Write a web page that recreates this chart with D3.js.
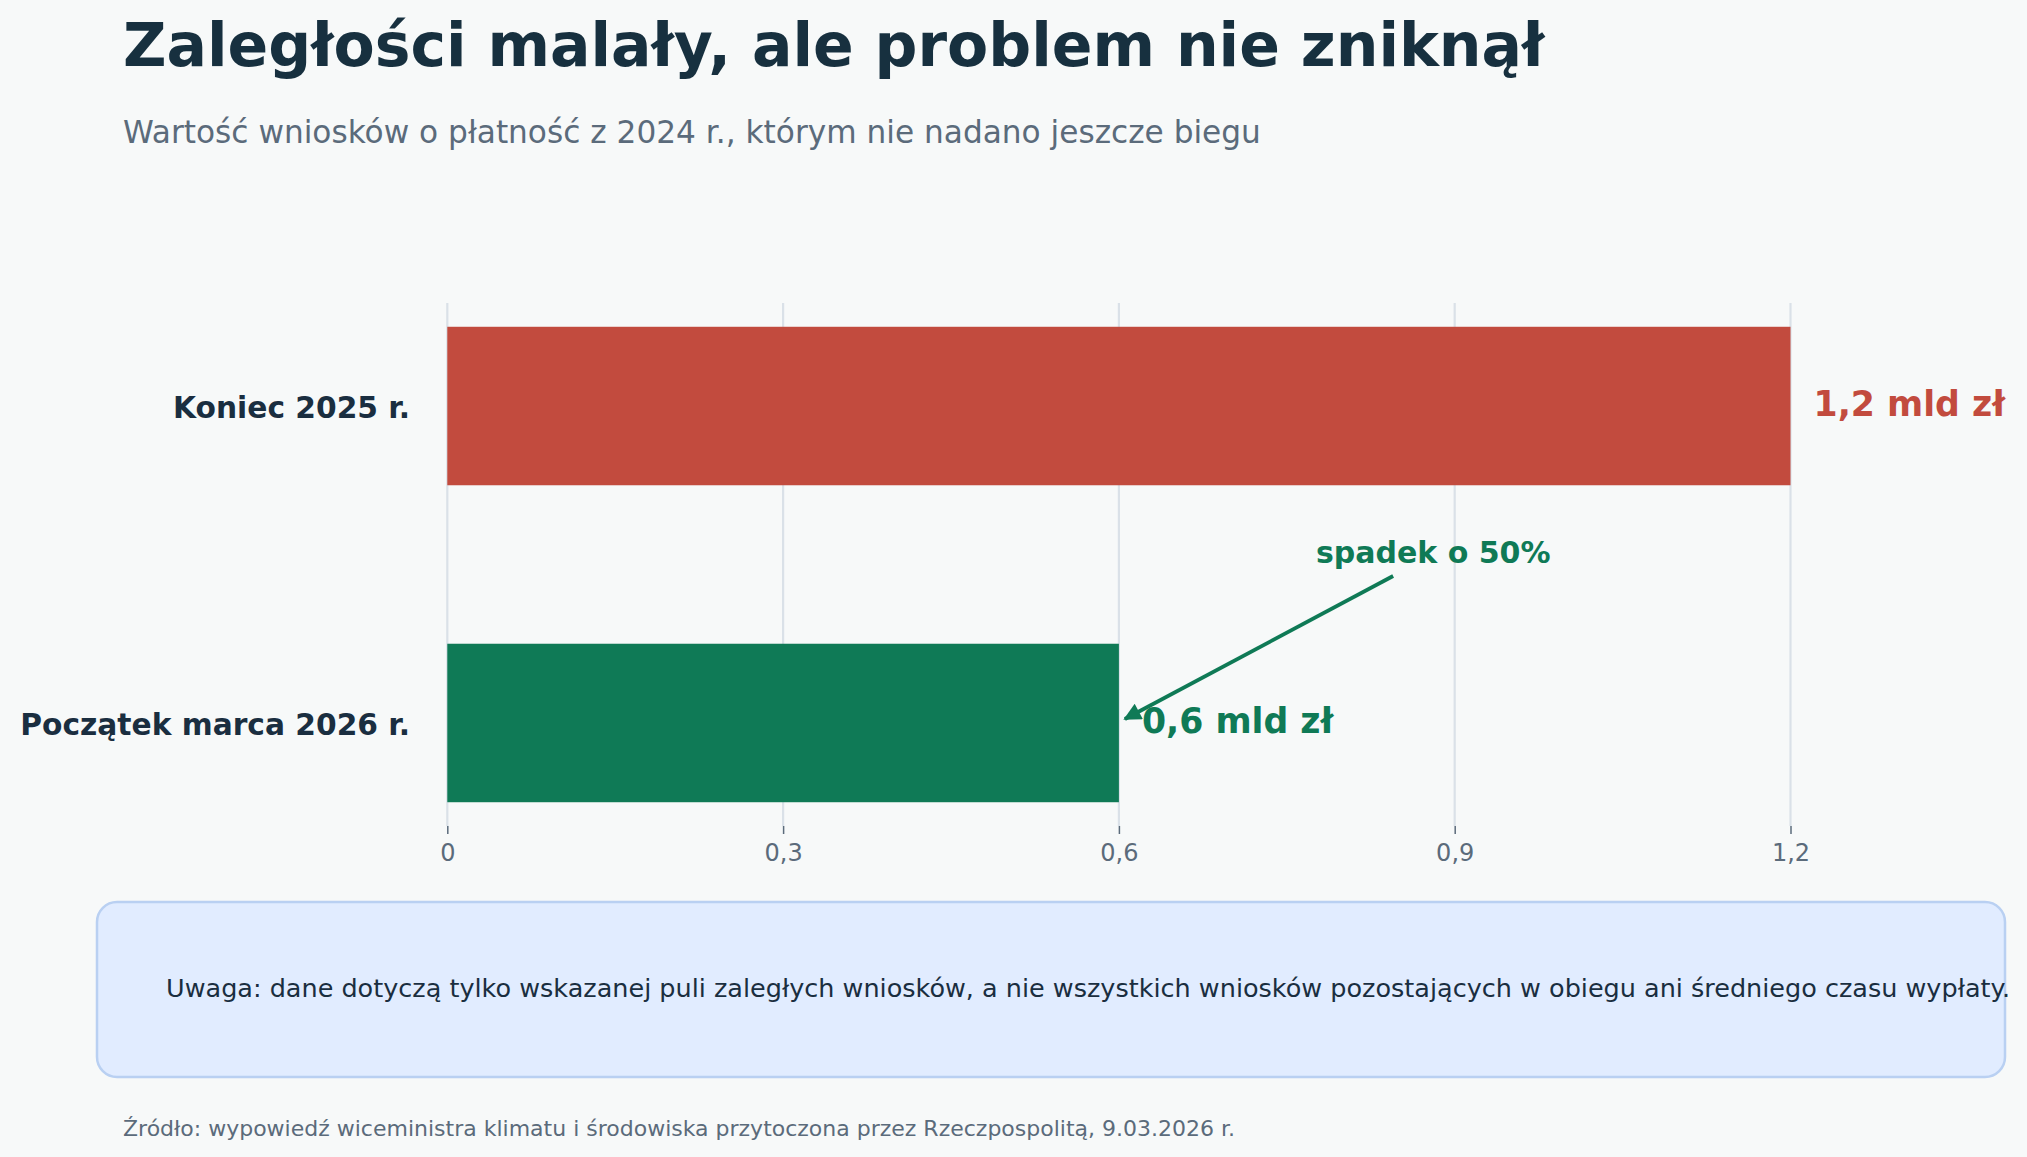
<!DOCTYPE html>
<html>
<head>
<meta charset="utf-8">
<script src="https://cdn.jsdelivr.net/npm/d3@7"></script>
<style>
  html, body { margin: 0; padding: 0; background: #f7f9f9; }
  svg { display: block; font-family: "DejaVu Sans", sans-serif; }
</style>
</head>
<body>
<div id="chart"></div>
<script>
  // Chart data
  const categories = ["Koniec 2025 r.", "Początek marca 2026 r."];
  const values = [1.2, 0.6];
  const valueLabels = ["1,2 mld zł", "0,6 mld zł"];
  const barColors = ["#c24b3e", "#0f7a56"];
  const tickValues = [0, 0.3, 0.6, 0.9, 1.2];

  const title = "Zaległości malały, ale problem nie zniknął";
  const subtitle = "Wartość wniosków o płatność z 2024 r., którym nie nadano jeszcze biegu";
  const annotationText = "spadek o 50%";
  const noteText = "Uwaga: dane dotyczą tylko wskazanej puli zaległych wniosków, a nie wszystkich wniosków pozostających w obiegu ani średniego czasu wypłaty.";
  const sourceText = "Źródło: wypowiedź wiceministra klimatu i środowiska przytoczona przez Rzeczpospolitą, 9.03.2026 r.";

  const width = 2027;
  const height = 1157;

  // Plot area
  const plot = { left: 447.3, right: 1790.5, top: 303, bottom: 826 };

  const svg = d3
    .select("#chart")
    .append("svg")
    .attr("width", width)
    .attr("height", height);

  svg.append("rect")
    .attr("width", width)
    .attr("height", height)
    .attr("fill", "#f7f9f9");

  // Polish number format (comma decimal)
  const pl = d3.formatLocale({ decimal: ",", thousands: " ", grouping: [3], currency: ["", " zł"] });
  const fmt = pl.format("~g");

  // Scales
  const x = d3.scaleLinear()
    .domain([0, 1.2])
    .range([plot.left, plot.right]);

  const y = d3.scaleBand()
    .domain(categories)
    .range([plot.top, plot.bottom])
    .paddingInner(0.5)
    .paddingOuter(0.075);

  // Title and subtitle
  svg.append("text")
    .attr("x", 123)
    .attr("y", 66)
    .attr("font-size", 60)
    .attr("font-weight", "bold")
    .attr("fill", "#17303f")
    .text(title);

  svg.append("text")
    .attr("x", 123)
    .attr("y", 143)
    .attr("font-size", 31.2)
    .attr("fill", "#5b6b7b")
    .text(subtitle);

  // Gridlines
  svg.append("g")
    .selectAll("line")
    .data(tickValues)
    .enter()
    .append("line")
    .attr("x1", d => x(d))
    .attr("x2", d => x(d))
    .attr("y1", plot.top)
    .attr("y2", plot.bottom)
    .attr("stroke", "#dae1e8")
    .attr("stroke-width", 2.2);

  // Bars
  svg.selectAll(".bar")
    .data(categories)
    .enter()
    .append("rect")
    .attr("class", "bar")
    .attr("x", x(0))
    .attr("y", d => y(d))
    .attr("width", (d, i) => x(values[i]) - x(0))
    .attr("height", y.bandwidth())
    .attr("fill", (d, i) => barColors[i]);

  // X axis
  const xAxis = svg.append("g")
    .attr("transform", `translate(0, ${plot.bottom})`)
    .call(d3.axisBottom(x).tickValues(tickValues).tickFormat(fmt).tickSize(8).tickPadding(10));

  xAxis.select(".domain").remove();
  xAxis.selectAll(".tick line").attr("stroke", "#5b6b7b").attr("stroke-width", 1.5);
  xAxis.selectAll(".tick text")
    .attr("fill", "#5b6b7b")
    .attr("font-size", 24)
    .attr("font-family", "DejaVu Sans, sans-serif");

  // Category labels
  svg.selectAll(".cat")
    .data(categories)
    .enter()
    .append("text")
    .attr("class", "cat")
    .attr("x", 410)
    .attr("y", d => y(d) + y.bandwidth() / 2)
    .attr("dy", "0.42em")
    .attr("text-anchor", "end")
    .attr("font-size", 29.7)
    .attr("font-weight", "bold")
    .attr("fill", "#1a2e40")
    .text(d => d);

  // Value labels
  svg.selectAll(".val")
    .data(categories)
    .enter()
    .append("text")
    .attr("class", "val")
    .attr("x", (d, i) => x(values[i]) + 23)
    .attr("y", d => y(d) + y.bandwidth() / 2)
    .attr("dy", "0.3em")
    .attr("font-size", 34.7)
    .attr("font-weight", "bold")
    .attr("fill", (d, i) => barColors[i])
    .text((d, i) => valueLabels[i]);

  // Annotation with arrow
  const green = barColors[1];
  svg.append("defs")
    .append("marker")
    .attr("id", "arrowhead")
    .attr("viewBox", "0 0 10 10")
    .attr("refX", 9)
    .attr("refY", 5)
    .attr("markerWidth", 5.5)
    .attr("markerHeight", 4.6)
    .attr("markerUnits", "strokeWidth")
    .attr("orient", "auto")
    .append("path")
    .attr("d", "M0,0 L10,5 L0,10 z")
    .attr("fill", green);

  const tipX = x(values[1]) + 6;
  const tipY = y(categories[1]) + y.bandwidth() / 2 - 4;
  const startX = x(0.845);
  const startY = 576;

  svg.append("line")
    .attr("x1", startX)
    .attr("y1", startY)
    .attr("x2", tipX)
    .attr("y2", tipY)
    .attr("stroke", green)
    .attr("stroke-width", 3.8)
    .attr("marker-end", "url(#arrowhead)");

  svg.append("text")
    .attr("x", x(0.776))
    .attr("y", 563)
    .attr("font-size", 30)
    .attr("font-weight", "bold")
    .attr("fill", green)
    .text(annotationText);

  // Note box
  svg.append("rect")
    .attr("x", 97)
    .attr("y", 902)
    .attr("width", 1908)
    .attr("height", 175)
    .attr("rx", 20)
    .attr("fill", "#e1ecff")
    .attr("stroke", "#b9d0f2")
    .attr("stroke-width", 2.5);

  svg.append("text")
    .attr("x", 166)
    .attr("y", 997)
    .attr("font-size", 25.5)
    .attr("fill", "#1a2e40")
    .text(noteText);

  // Source
  svg.append("text")
    .attr("x", 123)
    .attr("y", 1136)
    .attr("font-size", 22)
    .attr("fill", "#5b6b7b")
    .text(sourceText);
</script>
</body>
</html>
